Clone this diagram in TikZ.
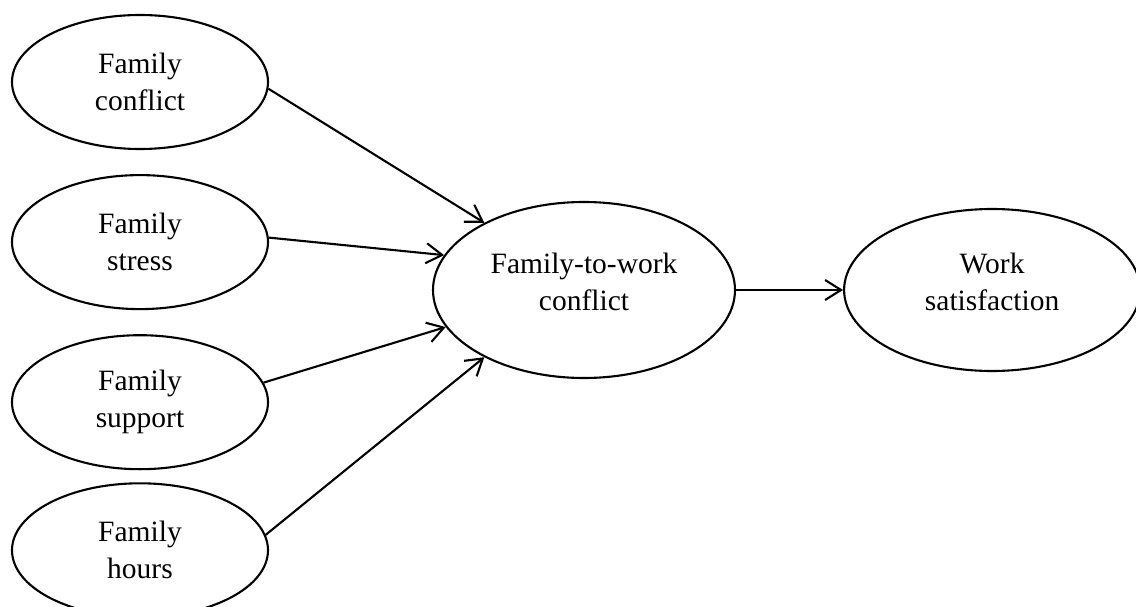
\documentclass[tikz,border=0pt]{standalone}
\usepackage{fontspec}
\setmainfont{Liberation Serif}
\usetikzlibrary{positioning, arrows.meta, shapes.geometric}

\newcommand{\lowstrut}{\rule[-17pt]{0pt}{17pt}}

\begin{document}
\begin{tikzpicture}[
    x=1pt, y=-1pt,
    every node/.style={draw, ellipse, align=center, inner sep=0pt, font=\fontsize{29.5}{37}\selectfont},
    cause/.style={minimum width=256pt, minimum height=134pt},
    every path/.style={line width=2.1pt, black},
    >={Straight Barb[length=16pt, width=20pt]}
]
\useasboundingbox (0,0) rectangle (1136,607);

% Nodos
\node[cause] (conf) at (140,82) {Family\\conflict};
\node[cause] (stress) [below=24pt of conf] {Family\\stress};
\node[cause] (supp) [below=24pt of stress] {Family\\support};
\node[cause] (hours) [below=12pt of supp] {Family\\hours};
\node[minimum width=302pt, minimum height=176pt] (ftw) at (584,290) {Family-to-work\\conflict\lowstrut};
\node[minimum width=296pt, minimum height=162pt] (sat) [right=107pt of ftw] {Work\\satisfaction\lowstrut};

% Flechas
\draw[->] (conf.-3) -- (ftw.146);
\draw[->] (stress.2) -- (ftw.166);
\draw[->] (supp.9) -- (ftw.195);
\draw[->] (hours.7) -- (ftw.214);
\draw[->] (ftw) -- (sat);

\end{tikzpicture}
\end{document}
